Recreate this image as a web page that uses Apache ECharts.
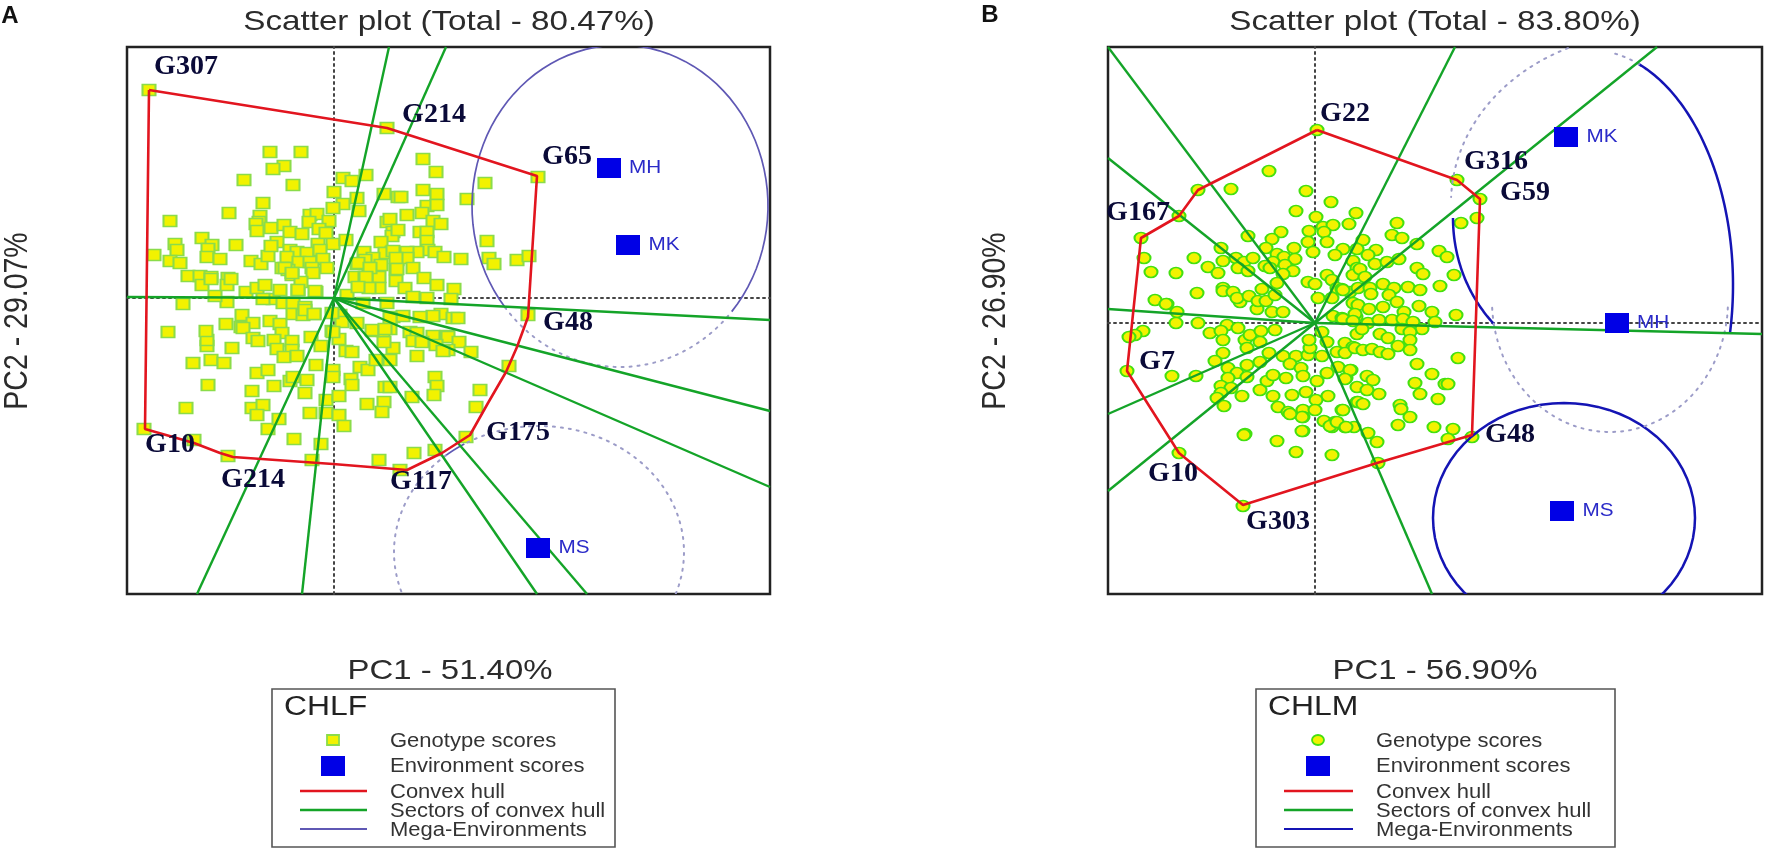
<!DOCTYPE html>
<html><head><meta charset="utf-8">
<style>html,body{margin:0;padding:0;background:#fff}#c{width:1772px;height:851px}</style>
<script src="https://cdn.jsdelivr.net/npm/echarts@6/dist/echarts.min.js"></script>
</head><body><div id="c"></div>
<script>
const aGenotypes = [[-185,208],[53,170],[-64,146],[-33,146],[-50,132],[-61,129],[-90,118],[-41,113],[9,120],[18,117],[32,123],[0,106],[50,104],[23,100],[64,101],[-71,95],[9,94],[-1,90],[25,87],[-105,85],[-164,77],[-74,82],[-75,76],[-78,74],[-77,67],[-63,70],[-50,73],[-24,83],[-17,84],[-25,76],[-5,77],[-15,69],[-44,66],[-32,64],[-8,65],[53,76],[56,79],[59,66],[58,62],[-132,60],[-122,53],[-159,54],[-157,48],[-126,49],[-127,41],[-98,53],[-180,43],[-164,37],[-154,35],[-114,39],[-83,37],[-73,34],[-66,42],[-57,56],[-63,52],[-16,54],[-1,54],[12,58],[47,56],[30,46],[58,46],[51,45],[-44,48],[-37,46],[-27,45],[-14,48],[-47,41],[-35,36],[-24,36],[-11,39],[-22,30],[39,40],[31,38],[23,34],[47,33],[63,38],[62,29],[-52,30],[-46,28],[-7,30],[35,30],[-146,22],[-134,22],[-123,21],[-106,20],[21,21],[31,21],[45,21],[-21,25],[-42,23],
[-190,-131],[-140,-142],[-106,-158],[-22,-162],[45,-162],[-13,-146],[-40,-141],[-66,-131],[-55,-121],[-148,-110],[-126,-87],[-82,-93],[-60,-88],[-82,-110],[-71,-107],[-77,-117],[-24,-115],[-8,-115],[5,-117],[10,-128],[-29,-95],[-8,-102],[5,-98],[33,-106],[50,-104],[48,-114],[-27,-82],[-44,-83],[-41,-79],[-77,-75],[-66,-72],[-18,-67],[-1,-72],[-1,-79],[17,-81],[18,-87],[26,-69],[34,-72],[51,-89],[56,-89],[-141,-65],[-123,-62],[-110,-65],[-127,-48],[-127,-42],[-128,-33],[-166,-34],[-102,-50],[-108,-26],[-92,-17],[-93,-29],[-81,-25],[-91,-30],[-81,-40],[-76,-43],[-64,-23],[-54,-26],[-52,-35],[-60,-42],[-42,-43],[-57,-51],[-42,-52],[-50,-59],[-37,-58],[-23,-39],[-13,-48],[-2,-33],[5,-41],[12,-53],[18,-54],[42,-62],[56,-62],[59,-50],[50,-44],[39,-33],[49,-33],[56,-31],[-151,-6],[-107,-4],[-119,2],[-88,6],[-77,10],[-69,13],[-61,-1],[-51,-5],[-41,-5],[-41,-16],[-29,-9],[-31,-17],[-20,-16],[-71,-1],[-54,8],[-36,8],[-18,6],[13,3],[-132,13],[-123,19],[-107,13],[-103,19],[-33,16],[-49,30],[-42,25],[29,-5],[53,-5],[23,-25],[59,-19],[6,-17],[8,-24],
[204,121],[89,139],[102,126],[151,115],[89,108],[103,104],[67,101],[133,99],[93,92],[103,93],[88,85],[73,83],[99,77],[107,74],[153,57],[64,68],[86,66],[93,66],[93,57],[94,48],[101,46],[83,46],[73,46],[73,40],[110,41],[127,39],[155,40],[160,34],[183,38],[195,42],[59,47],[62,40],[24,35],[63,29],[79,30],[36,30],[32,21],[62,17],[90,20],[103,13],[120,9],[71,10],[45,10],[35,10],[24,11],[-19,7],[-36,8],[79,1],[93,0],[117,-1],[194,-17],[107,-16],[99,-18],[86,-19],[119,-20],[124,-20],[69,-18],[56,-20],[38,-32],[51,-31],[76,-34],[83,-35],[99,-38],[113,-38],[-1,-34],[-2,-15],[-29,-12],[-20,-16],
[114,-39],[125,-44],[79,-43],[88,-44],[102,-47],[114,-52],[109,-53],[137,-54],[83,-58],[175,-68],[101,-79],[103,-88],[100,-97],[78,-99],[146,-92],[142,-109],[132,-139],[80,-155],[101,-152],[66,-172]];
const aEnvironments = [[275,130,'MH'],[294,53,'MK'],[204,-250,'MS']];
const aHull = [[-185,208],[53,170],[203,122],[194,-19],[183,-49],[172,-74],[154,-105],[136,-137],[108,-155],[73,-172],[-1,-166],[-101,-159],[-114,-155],[-140,-145],[-189,-131],[-185,208]];
const aSectorEnds = [[55,251],[112,251],[436,-22],[436,-113],[436,-189],[253,-296],[203,-296],[-137,-296],[-32,-296],[-207,1]];
// Mega-environment outlines: centre x, centre y, radius x, radius y, from angle, to angle (degrees)
const aMegaSolid = [[286,92,148,161,-41,219],[205,-254,145,126,121,130]];
const aMegaDotted = [[286,92,148,161,219,319],[205,-254,145,126,-30,121],[205,-254,145,126,130,210]];
const aLabels = [[-148,231,'G307'],[100,183,'G214'],[233,141,'G65'],[234,-25,'G48'],[184,-135,'G175'],[87,-184,'G117'],[-164,-147,'G10'],[-81,-182,'G214']];

const bGenotypes = [[2,193],[-117,133],[-136,107],[-46,152],[-84,134],[-9,132],[16,121],[-19,112],[1,106],[41,110],[34,99],[8,96],[18,98],[9,91],[-6,92],[-34,91],[-67,87],[-43,84],[-7,81],[12,81],[-94,75],[-49,75],[-21,75],[-2,71],[28,74],[20,68],[38,62],[-121,65],[-92,62],[-79,65],[-71,61],[-62,65],[-38,69],[-31,66],[-20,64],[-42,61],[-30,58],[-50,57],[-107,56],[-77,55],[-67,52],[-45,55],[-22,52],[-139,50],[-97,50],[-32,49],[12,48],[42,55],[38,48],[-38,40],[-7,41],[0,39],[17,43],[22,35],[-92,35],[-174,85],[-171,65],[-164,51],
[-160,23],[-148,19],[-172,-8],[-180,-12],[-186,-14],[-188,-48],[-143,-53],[-118,30],[-92,32],[-82,31],[-149,19],[-138,11],[-139,0],[-117,0],[-105,-10],[-75,21],[-78,25],[-66,27],[-58,14],[-57,22],[-49,22],[-53,34],[-40,28],[-43,11],[-32,11],[-88,-2],[-77,-5],[-94,-8],[-92,-17],[-70,-17],[-65,-12],[-54,-8],[-55,-19],[-40,-7],[-92,-30],[-100,-38],[-68,-25],[-46,-30],[-55,-39],[-32,-33],[-19,-33],[-25,-41],[-7,-32],[7,-33],[-5,-25],[-6,-17],[7,-9],[12,-19],[22,-29],[30,-20],[38,-24],[42,-11],[30,-30],[-87,-45],[-78,-50],[-68,-42],[-87,-55],[-68,-54],[-119,-53],[-94,-63],[-84,-65],[-94,-70],[-98,-75],[-73,-73],[-55,-67],[-42,-73],[-48,-58],[-42,-52],[-29,-55],[-14,-45],[-12,-53],[2,-58],[12,-50],[23,-44],[36,-47],[31,-55],[42,-64],[-23,-72],[-9,-69],[13,-73],[1,-77],[42,-79],[27,-87],[-37,-84],[-91,-83],[-27,-89],[-12,-87],[0,-87],[-12,-94],[9,-98],[20,-99],[17,-104],[30,-104],[39,-104],[-12,-108],[-70,-111],[3,25],[17,25],[27,34],[18,7],[27,5],[41,6],[38,20],[35,31],
[142,143],[165,124],[162,105],[146,100],[82,100],[77,88],[87,85],[102,79],[124,72],[132,66],[48,83],[61,73],[42,74],[53,68],[60,59],[72,61],[84,64],[102,55],[108,49],[139,48],[45,54],[50,46],[125,37],[68,39],[79,35],[93,36],[105,33],[28,33],[43,35],[55,35],[56,29],[74,28],[82,21],[104,17],[43,18],[54,14],[68,16],[89,11],[117,11],[141,8],[40,9],[28,4],[38,2],[53,0],[64,3],[77,3],[88,4],[98,1],[120,1],[107,-6],[87,-6],[95,-9],[47,-6],[65,-11],[73,-15],[95,-17],[40,-25],[48,-27],[57,-26],[65,-29],[73,-31],[83,-23],[95,-27],[143,-35],[102,-41],[117,-51],[35,-47],[52,-53],[58,-57],[30,-56],[100,-60],[105,-71],[52,-67],[64,-71],[130,-61],[133,-61],[123,-76],[43,-79],[48,-81],[85,-82],[86,-86],[28,-87],[95,-94],[83,-102],[119,-104],[138,-106],[53,-110],[133,-116],[157,-114],[62,-119],
[-71,-112],[-38,-118],[-19,-129],[-13,-108],[17,-132],[-136,-130],[-72,-183],[-13,-94],[-25,-91],[15,-103],[22,-99],[31,-104],[63,-140]];
const bEnvironments = [[251,186,'MK'],[302,0,'MH'],[247,-188,'MS']];
const bHull = [[2,193],[142,143],[165,124],[157,-112],[62,-140],[-72,-182],[-136,-130],[-188,-48],[-174,85],[-136,107],[-117,133],[2,193]];
const bSectorEnds = [[140,276],[342,276],[447,-11],[117,-271],[-207,-168],[-207,-91],[-207,14],[-207,165],[-207,276]];
const bMegaSolid = [[275,38,143,235,-12,70],[278,105,140,150,180,225],[249,-195,131,115,0,360]];
const bMegaDotted = [[295,22,118,131,183,358],[335,120,199,170,105,178],[275,38,143,235,70,80]];
const bLabels = [[30,209,'G22'],[181,161,'G316'],[210,130,'G59'],[195,-112,'G48'],[-177,110,'G167'],[-158,-39,'G7'],[-142,-151,'G10'],[-37,-199,'G303']];

const legendNames = ['Genotype scores','Environment scores','Convex hull','Sectors of convex hull','Mega-Environments'];

const RED='#e2151f', GREEN='#14a428', SANS='"Liberation Sans", Arial, sans-serif', SERIF='"Liberation Serif", serif';

function lineS(idx,data,color,width,z){
  return {type:'line',xAxisIndex:idx,yAxisIndex:idx,data,symbol:'none',z:z||4,silent:true,
    lineStyle:{color,width},clip:true};
}
function megaS(idx,rows,color,width,dash){
  return {type:'custom',xAxisIndex:idx,yAxisIndex:idx,data:rows,z:3,silent:true,clip:true,
    encode:{x:0,y:1},
    renderItem(p,api){
      const r=rows[p.dataIndex], pts=[];
      for(let i=0;i<=72;i++){
        const t=(r[4]+(r[5]-r[4])*i/72)*Math.PI/180;
        pts.push(api.coord([r[0]+r[2]*Math.cos(t),r[1]+r[3]*Math.sin(t)]));
      }
      return {type:'polyline',shape:{points:pts},
        style:{fill:null,stroke:color,lineWidth:width,lineDash:dash||null,lineCap:dash?'round':'butt'}};
    }};
}
function textS(idx,rows,font,fill,scaleX,dx){
  return {type:'custom',xAxisIndex:idx,yAxisIndex:idx,data:rows,z:8,silent:true,clip:false,
    encode:{x:0,y:1},
    renderItem(p,api){
      const r=rows[p.dataIndex], c=api.coord([r[0],r[1]]);
      return {type:'text',x:c[0]+(dx||0),y:c[1],scaleX:scaleX||1,
        style:{text:r[2],font,fill,align:'center',verticalAlign:'middle'}};
    }};
}
function panel(idx,pts,sym,border,env,hull,ends,solid,dotted,megaColor,megaW,labels){
  const s=[{type:'scatter',xAxisIndex:idx,yAxisIndex:idx,data:pts,symbol:sym,symbolSize:[13,11],z:2,silent:true,
    itemStyle:{color:'#f2f200',borderColor:border,borderWidth:1.9,opacity:1}}];
  ends.forEach(e=>s.push(lineS(idx,[[0,0],e],GREEN,2.4)));
  s.push(lineS(idx,hull,RED,2.6,5));
  s.push(megaS(idx,solid,megaColor,megaW));
  s.push(megaS(idx,dotted,'#9c9cc8',2,[2,6]));
  s.push({type:'scatter',xAxisIndex:idx,yAxisIndex:idx,data:env.map(e=>[e[0],e[1]]),symbol:'rect',symbolSize:[24,20],z:6,silent:true,
    itemStyle:{color:'#0000e6',opacity:1}});
  s.push(textS(idx,env,'18px '+SANS,'#2a2ac8',1.15,36));
  s.push(textS(idx,labels,'bold 28px '+SERIF,'#0a0a38',1));
  return s;
}
function axis(min,max){
  return {type:'value',min,max,axisLabel:{show:false},axisTick:{show:false},splitLine:{show:false},
    axisLine:{show:true,onZero:true,lineStyle:{color:'#444',width:2,type:[2,4]}}};
}
function txt(text,x,y,font,scaleX,opt){
  return {type:'text',x,y,scaleX:scaleX||1,z:20,silent:true,
    style:Object.assign({text,font,fill:'#2b2b2b',align:'center',verticalAlign:'middle'},opt||{})};
}
function legendBox(x0,x1,title,sym,megaColor,symX,lineX0,lineX1,textX,titleX){
  const rowsY=[741,766,792,811,830];
  const out=[{type:'rect',shape:{x:x0,y:689,width:x1-x0,height:158},z:19,silent:true,style:{fill:'#fff',stroke:'#555',lineWidth:1.6}},
    txt(title,titleX,708,'27px '+SANS,1.18,{align:'left',fill:'#222'})];
  legendNames.forEach((n,i)=>out.push(txt(n,textX,rowsY[i],'20px '+SANS,1.1,{align:'left',fill:'#333'})));
  out.push(sym==='rect'
    ?{type:'rect',shape:{x:symX-6,y:735,width:12,height:10},z:20,silent:true,style:{fill:'#f2f200',stroke:'#8bdc4a',lineWidth:1.8}}
    :{type:'ellipse',shape:{cx:symX,cy:740,rx:6,ry:5},z:20,silent:true,style:{fill:'#f2f200',stroke:'#44e010',lineWidth:1.8}});
  out.push({type:'rect',shape:{x:symX-12,y:756,width:24,height:20},z:20,silent:true,style:{fill:'#0000e6'}});
  [[791,RED,2.4],[810,GREEN,2.4],[829,megaColor,2]].forEach(r=>out.push({type:'line',z:20,silent:true,
    shape:{x1:lineX0,y1:r[0],x2:lineX1,y2:r[0]},style:{stroke:r[1],lineWidth:r[2]}}));
  return out;
}

const MEGA_A='#5f58b4', MEGA_B='#1414b4';
const chart=echarts.init(document.getElementById('c'),null,{renderer:'canvas'});
chart.setOption({
  animation:false,backgroundColor:'#fff',
  grid:[{left:127,top:47,width:643,height:547,show:true,borderColor:'#222',borderWidth:2.5,backgroundColor:'#fff'},
        {left:1108,top:47,width:654,height:547,show:true,borderColor:'#222',borderWidth:2.5,backgroundColor:'#fff'}],
  xAxis:[Object.assign(axis(-207,436),{gridIndex:0}),Object.assign(axis(-207,447),{gridIndex:1})],
  yAxis:[Object.assign(axis(-296,251),{gridIndex:0}),Object.assign(axis(-271,276),{gridIndex:1})],
  series:[].concat(
    panel(0,aGenotypes,'rect','#8bdc4a',aEnvironments,aHull,aSectorEnds,aMegaSolid,aMegaDotted,MEGA_A,1.7,aLabels),
    panel(1,bGenotypes,'circle','#44e010',bEnvironments,bHull,bSectorEnds,bMegaSolid,bMegaDotted,MEGA_B,2.5,bLabels)
  ),
  graphic:{elements:[].concat(
    [txt('A',10,16,'bold 24px '+SANS,1,{fill:'#111'}),
     txt('B',990,15,'bold 24px '+SANS,1,{fill:'#111'}),
     txt('Scatter plot (Total - 80.47%)',449,22,'28.5px '+SANS,1.165),
     txt('Scatter plot (Total - 83.80%)',1435,22,'28.5px '+SANS,1.165),
     txt('PC1 - 51.40%',450,671,'28.5px '+SANS,1.155),
     txt('PC1 - 56.90%',1435,671,'28.5px '+SANS,1.155),
     Object.assign(txt('PC2 - 29.07%',18,321,'28.5px '+SANS,1),{rotation:Math.PI/2,scaleY:1.18}),
     Object.assign(txt('PC2 - 26.90%',996,321,'28.5px '+SANS,1),{rotation:Math.PI/2,scaleY:1.18})],
    legendBox(272,615,'CHLF','rect',MEGA_A,333,300,367,390,284),
    legendBox(1256,1615,'CHLM','circle',MEGA_B,1318,1284,1353,1376,1268)
  )}
});
</script></body></html>
